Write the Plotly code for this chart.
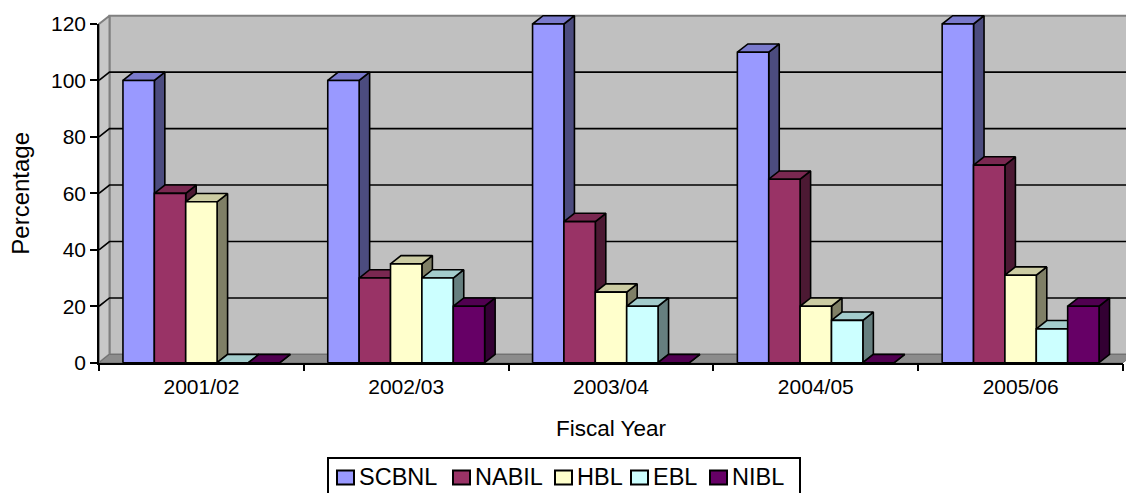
import plotly.graph_objects as go

# ---------------- data ----------------
years = ["2001/02", "2002/03", "2003/04", "2004/05", "2005/06"]
banks = ["SCBNL", "NABIL", "HBL", "EBL", "NIBL"]
scbnl = [100, 100, 120, 110, 120]
nabil = [60, 30, 50, 65, 70]
hbl = [57, 35, 25, 20, 31]
ebl = [0, 30, 20, 15, 12]
nibl = [0, 20, 0, 0, 20]
y_ticks = [0, 20, 40, 60, 80, 100, 120]
y_max = 120

series = [scbnl, nabil, hbl, ebl, nibl]
front_colors = ["#9999FF", "#993366", "#FFFFCC", "#CCFFFF", "#660066"]


def shade(hex_color, f):
    h = hex_color.lstrip("#")
    r, g, b = (int(h[i:i + 2], 16) for i in (0, 2, 4))
    return "#%02X%02X%02X" % (int(r * f), int(g * f), int(b * f))


top_colors = [shade(c, 0.8) for c in front_colors]
side_colors = [shade(c, 0.5) for c in front_colors]

# ---------------- geometry (pixels) ----------------
W, H = 1126, 493
X0, X1 = 99, 1123          # front plot area, left / right
YT, YB = 24, 362.7         # front plot area, top (120) / bottom (0)
DX, DY = 10.5, 8.3         # 3-D depth offset
ncat = len(years)
ppx = (X1 - X0) / ncat
ppy = (YB - YT) / y_max
dxd = DX / ppx
dyd = DY / ppy

bargap = 0.234
gw = 1 - bargap
bw = gw / len(banks)

FONT = "Liberation Sans, Arial, sans-serif"

fig = go.Figure()

xl, xr = -0.5, ncat - 0.5


def poly(xs, ys, fill, line, lw=1.5):
    fig.add_trace(go.Scatter(
        x=xs, y=ys, fill="toself", fillcolor=fill, mode="lines",
        line=dict(color=line, width=lw), hoverinfo="skip",
        showlegend=False, xaxis="x", yaxis="y"))


# walls and floor
poly([xl + dxd, xr + dxd, xr + dxd, xl + dxd, xl + dxd],
     [dyd, dyd, y_max + dyd, y_max + dyd, dyd], "#C0C0C0", "#808080", 2)
poly([xl, xl + dxd, xl + dxd, xl, xl],
     [0, dyd, y_max + dyd, y_max, 0], "#C8C8C8", "#808080", 2)
poly([xl, xr, xr + dxd, xl + dxd, xl],
     [0, 0, dyd, dyd, 0], "#8C8C8C", "#707070", 1)

# gridlines on the walls
gx, gy = [], []
for v in y_ticks[1:-1]:
    gx += [xl, xl + dxd, xr + dxd, None]
    gy += [v, v + dyd, v + dyd, None]
fig.add_trace(go.Scatter(x=gx, y=gy, mode="lines", line=dict(color="black", width=1.6),
                         hoverinfo="skip", showlegend=False, xaxis="x", yaxis="y"))

# 3-D bars
for k, (name, vals) in enumerate(zip(banks, series)):
    sx, sy, tx, ty, fx, fy = [], [], [], [], [], []
    for i, v in enumerate(vals):
        x0 = i - gw / 2 + k * bw
        x1 = x0 + bw
        sx += [x1, x1 + dxd, x1 + dxd, x1, x1, None]
        sy += [0, dyd, v + dyd, v, 0, None]
        tx += [x0, x1, x1 + dxd, x0 + dxd, x0, None]
        ty += [v, v, v + dyd, v + dyd, v, None]
        fx += [x0, x1, x1, x0, x0, None]
        fy += [0, 0, v, v, 0, None]
    for xs, ys, col in ((sx, sy, side_colors[k]), (tx, ty, top_colors[k]), (fx, fy, front_colors[k])):
        fig.add_trace(go.Scatter(x=xs, y=ys, fill="toself", fillcolor=col, mode="lines",
                                 line=dict(color="black", width=1.6), hoverinfo="skip",
                                 name=name, showlegend=False, xaxis="x", yaxis="y"))

# category holder for the visible axes
fig.add_trace(go.Scatter(x=years, y=scbnl, mode="none", showlegend=False,
                         hoverinfo="skip", xaxis="x2", yaxis="y2"))

# ---------------- legend (drawn box, swatches and text) ----------------
LEG_LEFT, LEG_RIGHT, LEG_TOP = 328, 800, 458
icon_x = [337, 453, 555, 631, 710]
ICON_W, ICON_Y0, ICON_Y1 = 17, 470.5, 484.5
TEXT_Y = 477

shapes = [dict(type="rect", xref="paper", yref="paper",
               x0=LEG_LEFT / W, x1=LEG_RIGHT / W, y0=-10 / H, y1=(H - LEG_TOP) / H,
               line=dict(color="black", width=2), fillcolor="white", layer="above")]
annotations = []
for k, name in enumerate(banks):
    shapes.append(dict(type="rect", xref="paper", yref="paper",
                       x0=icon_x[k] / W, x1=(icon_x[k] + ICON_W) / W,
                       y0=(H - ICON_Y1) / H, y1=(H - ICON_Y0) / H,
                       line=dict(color="black", width=2), fillcolor=front_colors[k],
                       layer="above"))
    annotations.append(dict(text=name, xref="paper", yref="paper",
                            x=(icon_x[k] + ICON_W + 3) / W, y=(H - TEXT_Y) / H,
                            xanchor="left", yanchor="middle", showarrow=False,
                            font=dict(size=23.5, family=FONT, color="black")))

fig.update_layout(
    width=W, height=H,
    margin=dict(l=0, r=0, t=0, b=0, autoexpand=False),
    paper_bgcolor="white", plot_bgcolor="rgba(0,0,0,0)",
    font=dict(family=FONT, size=21, color="black"),
    showlegend=False,
    shapes=shapes, annotations=annotations,
    xaxis=dict(domain=[0, 1], range=[xl - X0 / ppx, xr + (W - X1) / ppx], visible=False,
               fixedrange=True),
    yaxis=dict(domain=[0, 1], range=[-(H - YB) / ppy, y_max + YT / ppy], visible=False,
               fixedrange=True),
    xaxis2=dict(domain=[X0 / W, X1 / W], anchor="y2", type="category", categoryarray=years,
                categoryorder="array", range=[xl, xr], tickson="boundaries", ticks="outside",
                ticklen=7, tickwidth=1.5, tickcolor="black", showline=True, linecolor="black",
                linewidth=1.5, showgrid=False, zeroline=False, automargin=False,
                tickfont=dict(size=21), ticklabelstandoff=4,
                title=dict(text="Fiscal Year", font=dict(size=22.5), standoff=24)),
    yaxis2=dict(domain=[(H - YB) / H, (H - YT) / H], anchor="x2", range=[0, y_max],
                tickvals=y_ticks, ticks="outside", ticklen=7, tickwidth=1.5, tickcolor="black",
                showline=True, linecolor="black", linewidth=1.5, showgrid=False, zeroline=False,
                automargin=False, tickfont=dict(size=21),
                title=dict(text="Percentage", font=dict(size=24), standoff=15)),
)

fig.write_html("out.html")
